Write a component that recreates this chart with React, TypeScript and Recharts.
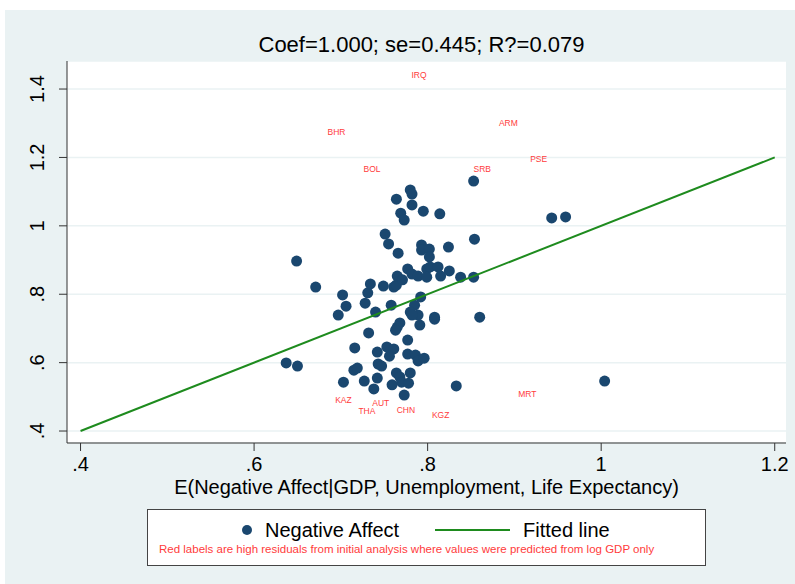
import { ScatterChart, Scatter, XAxis, YAxis, CartesianGrid } from "recharts";

// Negative Affect vs. fitted value
const negAffectX = [
  0.649, 0.671, 0.637, 0.65, 0.853, 0.943, 0.959, 0.854, 0.86, 0.833, 1.004,
  0.78, 0.782, 0.764, 0.782, 0.795, 0.814, 0.769, 0.773, 0.751, 0.755, 0.766,
  0.793, 0.793, 0.802, 0.802, 0.824, 0.702, 0.706, 0.731, 0.734, 0.728, 0.749,
  0.761, 0.764, 0.765, 0.771, 0.777, 0.782, 0.789, 0.799, 0.803, 0.812, 0.799,
  0.815, 0.825, 0.838, 0.853, 0.792, 0.785, 0.758, 0.74, 0.697, 0.78, 0.789,
  0.782, 0.808, 0.808, 0.768, 0.765, 0.763, 0.791, 0.732, 0.777, 0.716, 0.742,
  0.753, 0.761, 0.756, 0.777, 0.786, 0.789, 0.796, 0.743, 0.747, 0.715, 0.719,
  0.764, 0.768, 0.77, 0.778, 0.78, 0.742, 0.727, 0.703, 0.759, 0.738, 0.773,
];
const negAffectY = [
  0.897, 0.821, 0.599, 0.59, 1.131, 1.023, 1.026, 0.961, 0.733, 0.532, 0.546,
  1.105, 1.093, 1.078, 1.061, 1.043, 1.035, 1.037, 1.017, 0.976, 0.947, 0.92,
  0.944, 0.929, 0.932, 0.909, 0.938, 0.798, 0.765, 0.804, 0.83, 0.774, 0.824,
  0.821, 0.827, 0.853, 0.842, 0.874, 0.859, 0.853, 0.874, 0.88, 0.88, 0.85,
  0.853, 0.868, 0.85, 0.85, 0.792, 0.768, 0.768, 0.748, 0.739, 0.748, 0.739,
  0.739, 0.733, 0.727, 0.716, 0.704, 0.695, 0.71, 0.687, 0.666, 0.643, 0.631,
  0.646, 0.64, 0.619, 0.625, 0.622, 0.605, 0.613, 0.596, 0.59, 0.578, 0.584,
  0.57, 0.558, 0.543, 0.54, 0.57, 0.555, 0.546, 0.543, 0.535, 0.523, 0.505,
];

// high residuals from the log GDP model (labels only)
const outlierCodes = ["IRQ", "BHR", "ARM", "PSE", "BOL", "SRB", "KAZ", "THA", "AUT", "CHN", "KGZ", "MRT"];
const outlierX = [0.79, 0.695, 0.893, 0.928, 0.736, 0.863, 0.703, 0.73, 0.746, 0.775, 0.815, 0.915];
const outlierY = [1.441, 1.274, 1.301, 1.195, 1.166, 1.166, 0.491, 0.458, 0.481, 0.461, 0.447, 0.508];

const fitX = [0.4, 1.2];
const fitY = [0.4, 1.2];

const xTicks = [0.4, 0.6, 0.8, 1, 1.2];
const xTickLabels = [".4", ".6", ".8", "1", "1.2"];
const yTicks = [0.4, 0.6, 0.8, 1, 1.2, 1.4];
const yTickLabels = [".4", ".6", ".8", "1", "1.2", "1.4"];

const BG = "#eaf2f3";
const NAVY = "#1a476f";
const GREEN = "#1e8b1e";
const RED = "#ff3b3b";
const FONT = "'Liberation Sans', Arial, sans-serif";

const pointData = negAffectX.map((x, i) => ({ x, y: negAffectY[i] }));
const labelData = outlierCodes.map((code, i) => ({ x: outlierX[i], y: outlierY[i], code }));
const fitData = fitX.map((x, i) => ({ x, y: fitY[i] }));

function YTick({ x, y, payload }: any) {
  const label = yTickLabels[yTicks.indexOf(payload.value)];
  const bx = x - 13;
  return (
    <text
      x={bx}
      y={y}
      transform={`rotate(-90 ${bx} ${y})`}
      textAnchor="middle"
      fontSize={20}
      fontFamily={FONT}
      fill="#000"
    >
      {label}
    </text>
  );
}

function Dot({ cx, cy }: any) {
  return <circle cx={cx} cy={cy} r={5.5} fill={NAVY} />;
}

function CodeLabel({ cx, cy, payload }: any) {
  return (
    <text
      x={cx}
      y={cy}
      textAnchor="middle"
      dominantBaseline="central"
      fontSize={8.5}
      fontFamily={FONT}
      fill={RED}
    >
      {payload.code}
    </text>
  );
}

export default function App() {
  return (
    <div style={{ position: "absolute", left: 0, top: 0, width: 795, height: 584, background: "#fff", fontFamily: FONT }}>
      <div style={{ position: "absolute", left: 5, top: 10, width: 790, height: 574, background: BG }} />
      <div
        style={{
          position: "absolute",
          left: 62,
          width: 719,
          top: 33,
          textAlign: "center",
          fontSize: 22,
          lineHeight: "24px",
          color: "#000",
        }}
      >
        Coef=1.000; se=0.445; R?=0.079
      </div>
      <div style={{ position: "absolute", left: 0, top: 0 }}>
        <ScatterChart width={795} height={584} margin={{ top: 61, right: 9, bottom: 0, left: 0 }}>
          <CartesianGrid vertical={false} stroke={BG} strokeWidth={1.5} fill="#fff" />
          <XAxis
            type="number"
            dataKey="x"
            domain={[0.3844, 1.213]}
            allowDataOverflow
            ticks={xTicks}
            tickFormatter={(v: number) => xTickLabels[xTicks.indexOf(v)]}
            height={141}
            tickSize={8}
            tickMargin={6}
            stroke="#333"
            tick={{ fontSize: 20, fill: "#000", fontFamily: FONT }}
            label={{
              value: "E(Negative Affect|GDP, Unemployment, Life Expectancy)",
              position: "insideTop",
              offset: 37,
              fontSize: 20,
              fill: "#000",
              fontFamily: FONT,
            }}
          />
          <YAxis
            type="number"
            dataKey="y"
            domain={[0.365, 1.482]}
            allowDataOverflow
            ticks={yTicks}
            width={67}
            tickSize={8}
            stroke="#333"
            tick={<YTick />}
          />
          <Scatter data={pointData} shape={<Dot />} isAnimationActive={false} />
          <Scatter
            data={fitData}
            line={{ stroke: GREEN, strokeWidth: 2 }}
            shape={() => null}
            isAnimationActive={false}
          />
          <Scatter data={labelData} shape={<CodeLabel />} isAnimationActive={false} />
        </ScatterChart>
      </div>
      <div
        style={{
          position: "absolute",
          left: 147,
          top: 509,
          width: 557,
          height: 55,
          background: "#fff",
          border: "1px solid #444",
        }}
      >
        <svg width={557} height={55} style={{ position: "absolute", left: 0, top: 0 }}>
          <circle cx={99} cy={20} r={5} fill={NAVY} />
          <line x1={287} x2={362} y1={20} y2={20} stroke={GREEN} strokeWidth={2} />
        </svg>
        <div style={{ position: "absolute", left: 117, top: 8, fontSize: 20, lineHeight: "24px", whiteSpace: "nowrap" }}>
          Negative Affect
        </div>
        <div style={{ position: "absolute", left: 375, top: 8, fontSize: 20, lineHeight: "24px", whiteSpace: "nowrap" }}>
          Fitted line
        </div>
        <div style={{ position: "absolute", left: 11, top: 32, fontSize: 11.5, lineHeight: "14px", color: RED, whiteSpace: "nowrap" }}>
          Red labels are high residuals from initial analysis where values were predicted from log GDP only
        </div>
      </div>
    </div>
  );
}
